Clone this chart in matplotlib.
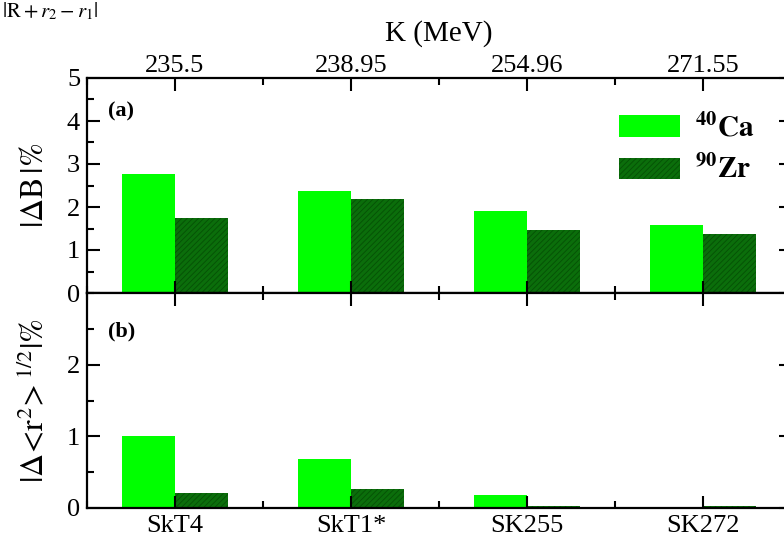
import numpy as np
import matplotlib
matplotlib.use('Agg')
from matplotlib import pyplot as plt
from matplotlib.ticker import MultipleLocator

plt.rcParams['font.family'] = ['Liberation Serif', 'DejaVu Serif']
plt.rcParams['mathtext.fontset'] = 'stix'
plt.rcParams['hatch.linewidth'] = 0.6

# data
forces = ['SkT4', 'SkT1*', 'SK255', 'SK272']
k_mev = ['235.5', '238.95', '254.96', '271.55']
dB_ca = [2.76, 2.38, 1.91, 1.58]
dB_zr = [1.75, 2.19, 1.46, 1.37]
dr_ca = [1.01, 0.68, 0.18, 0.0]
dr_zr = [0.21, 0.27, 0.03, 0.03]

light = '#00ff00'
dark = '#0b6e0b'
w = 0.3
x = np.arange(len(forces))

fig = plt.figure(figsize=(7.84, 5.38), dpi=100)
ax1 = fig.add_axes([87/784, 1-293/538, 704/784, 215/538])
ax2 = fig.add_axes([87/784, 1-508/538, 704/784, 215/538])

for ax, ca, zr in [(ax1, dB_ca, dB_zr), (ax2, dr_ca, dr_zr)]:
    ax.bar(x - w/2, ca, w, color=light, label=r'$\mathbf{^{40}Ca}$')
    ax.bar(x + w/2, zr, w, color=dark, hatch='//////', edgecolor='#055005',
           linewidth=0, label=r'$\mathbf{^{90}Zr}$')
    ax.set_xlim(-0.5, 3.5)
    ax.set_xticks(x)
    ax.xaxis.set_minor_locator(MultipleLocator(0.5))
    ax.yaxis.set_minor_locator(MultipleLocator(0.5))
    ax.tick_params(which='both', direction='in', top=True, right=True,
                   labelsize=19, width=1.5)
    ax.tick_params(which='major', length=9, pad=5)
    ax.tick_params(which='minor', length=5)
    for s in ax.spines.values():
        s.set_linewidth(1.6)

ax1.set_ylim(0, 5)
ax1.set_yticks([0, 1, 2, 3, 4, 5])
ax1.tick_params(labelbottom=False, labeltop=True)
ax1.tick_params(axis='x', pad=1)
ax1.set_xticklabels(k_mev)
ax1.xaxis.set_label_position('top')
ax1.set_xlabel('K (MeV)', fontsize=21, labelpad=10)
ax1.set_ylabel(r'$|\Delta\mathrm{B}\,|\%$', fontsize=23, labelpad=12)
ax1.text(0.03, 0.82, '(a)', transform=ax1.transAxes, fontsize=16, fontweight='bold')
ax1.legend(loc='upper right', bbox_to_anchor=(0.985, 0.96), frameon=False,
           fontsize=21, handlelength=2.1, handleheight=0.75, handletextpad=0.5,
           labelspacing=0.45)

ax2.set_ylim(0, 3)
ax2.set_yticks([0, 1, 2])
ax2.set_xticklabels(forces)
ax2.set_ylabel(r'$|\Delta\!<\!\mathrm{r}^{2}\!>^{1/2}|\%$', fontsize=23, labelpad=12)
ax2.text(0.03, 0.8, '(b)', transform=ax2.transAxes, fontsize=16, fontweight='bold')

# leftover caption from the page above, kept just inside the top edge
fig.text(0.002, 0.998, r'$|\mathrm{R}+r_2-r_1|$', fontsize=15, va='top', ha='left')

fig.savefig('out.png', dpi=100)
